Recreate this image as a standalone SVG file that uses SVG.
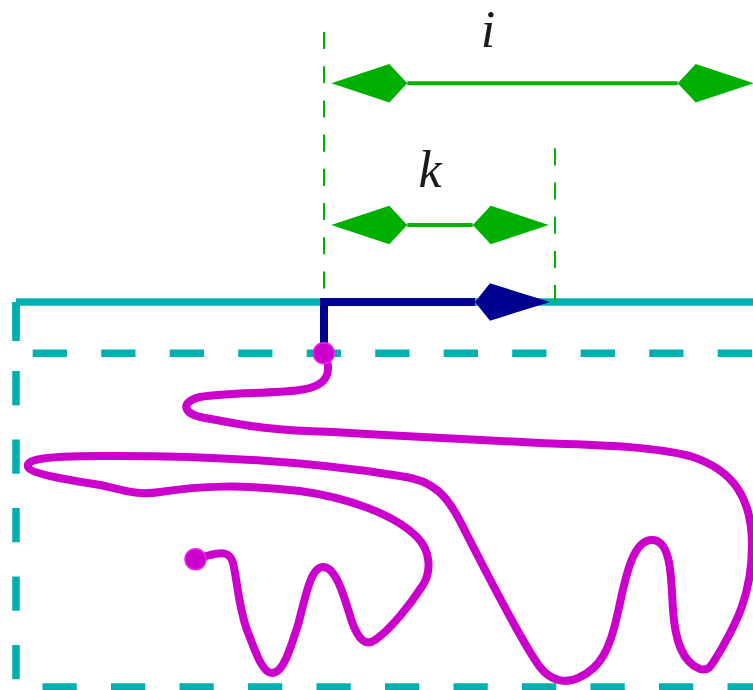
<svg xmlns="http://www.w3.org/2000/svg" width="753" height="690" viewBox="0 0 753 690">
<style>
.teal{fill:none;stroke:#00b0b0;stroke-width:7.5}
.dash{stroke-dasharray:34.25 34.25}
.gdash{fill:none;stroke:#00b000;stroke-width:2;stroke-dasharray:17.1 17.1}
.gline{fill:none;stroke:#00b000;stroke-width:4}
.navy{fill:none;stroke:#000090;stroke-width:8}
.curve{fill:none;stroke:#cc00cc;stroke-width:8;stroke-linecap:round;stroke-linejoin:round}
.dot{fill:#cc00cc;stroke:#f020f0;stroke-width:1.5}
.lbl{font-family:"Liberation Serif",serif;font-style:italic;font-size:52px;fill:#1a1a1a;text-anchor:middle}
</style>
<defs>
<marker id="arrG" markerUnits="userSpaceOnUse" markerWidth="80" markerHeight="42" refX="0" refY="21" orient="auto-start-reverse" overflow="visible">
<path d="M0,21 L18,1.7 L76,21 L18,40.3 Z" fill="#00b000"/>
</marker>
<marker id="arrN" markerUnits="userSpaceOnUse" markerWidth="80" markerHeight="42" refX="0" refY="21" orient="auto" overflow="visible">
<path d="M0,21 L15,2.3 L75,21 L15,39.7 Z" fill="#000090"/>
</marker>
</defs>
<g id="frame">
<path class="teal" d="M16,302 H753"/>
<path class="teal" d="M16,302 V341"/>
<path class="teal dash" d="M16,302.5 V687 H760"/>
<path class="teal dash" d="M32.7,353.3 H753"/>
</g>
<g id="guides">
<path class="gdash" d="M324,32 V300"/>
<path class="gdash" d="M555,148.3 V302"/>
</g>
<g id="connectors">
<path class="gline" d="M407.3,83.3 H677.7" marker-start="url(#arrG)" marker-end="url(#arrG)"/>
<path class="gline" d="M407.3,225 H472.7" marker-start="url(#arrG)" marker-end="url(#arrG)"/>
<path class="navy" d="M324,352 V302 H475" marker-end="url(#arrN)"/>
</g>
<g id="label-i"><text class="lbl" x="488" y="47">i</text></g>
<g id="label-k"><text class="lbl" x="430" y="186.5">k</text></g>
<g id="curve">
<path class="curve" d="M324,354 C332,370 330,386 300,390 C270,394 230,392 200,397 C180,402 182,414 205,418 C240,424 260,430 333,432 C400,436 460,439 540,443 C600,445 650,446 690,456 C735,470 752,500 752,545 C752,595 735,625 722,648 C712,664 710,672 700,669 C682,662 675,640 673,610 C671,580 672,540 652,540 C632,540 625,580 618,612 C610,650 600,668 580,677 C565,685 550,680 540,667 C520,640 480,560 460,521 C448,498 435,480 400,476 C350,468 250,455 100,456 C40,456 26,460 28,467 C30,474 70,480 100,485 C120,489 135,496 160,492 C200,486 240,484 300,491 C350,498 395,515 417,537 C430,550 432,570 423,585 C410,605 390,630 375,640 C365,647 358,638 352,622 C345,600 337,567 323,567 C310,567 305,600 298,625 C290,650 283,673 272,673 C262,673 255,650 247,630 C238,605 237,578 233,563 C230,552 223,552 210,555 L196,559"/>
<circle class="dot" cx="323.8" cy="353.3" r="10.5"/>
<circle class="dot" cx="195.5" cy="559.3" r="10.5"/>
</g>
</svg>
